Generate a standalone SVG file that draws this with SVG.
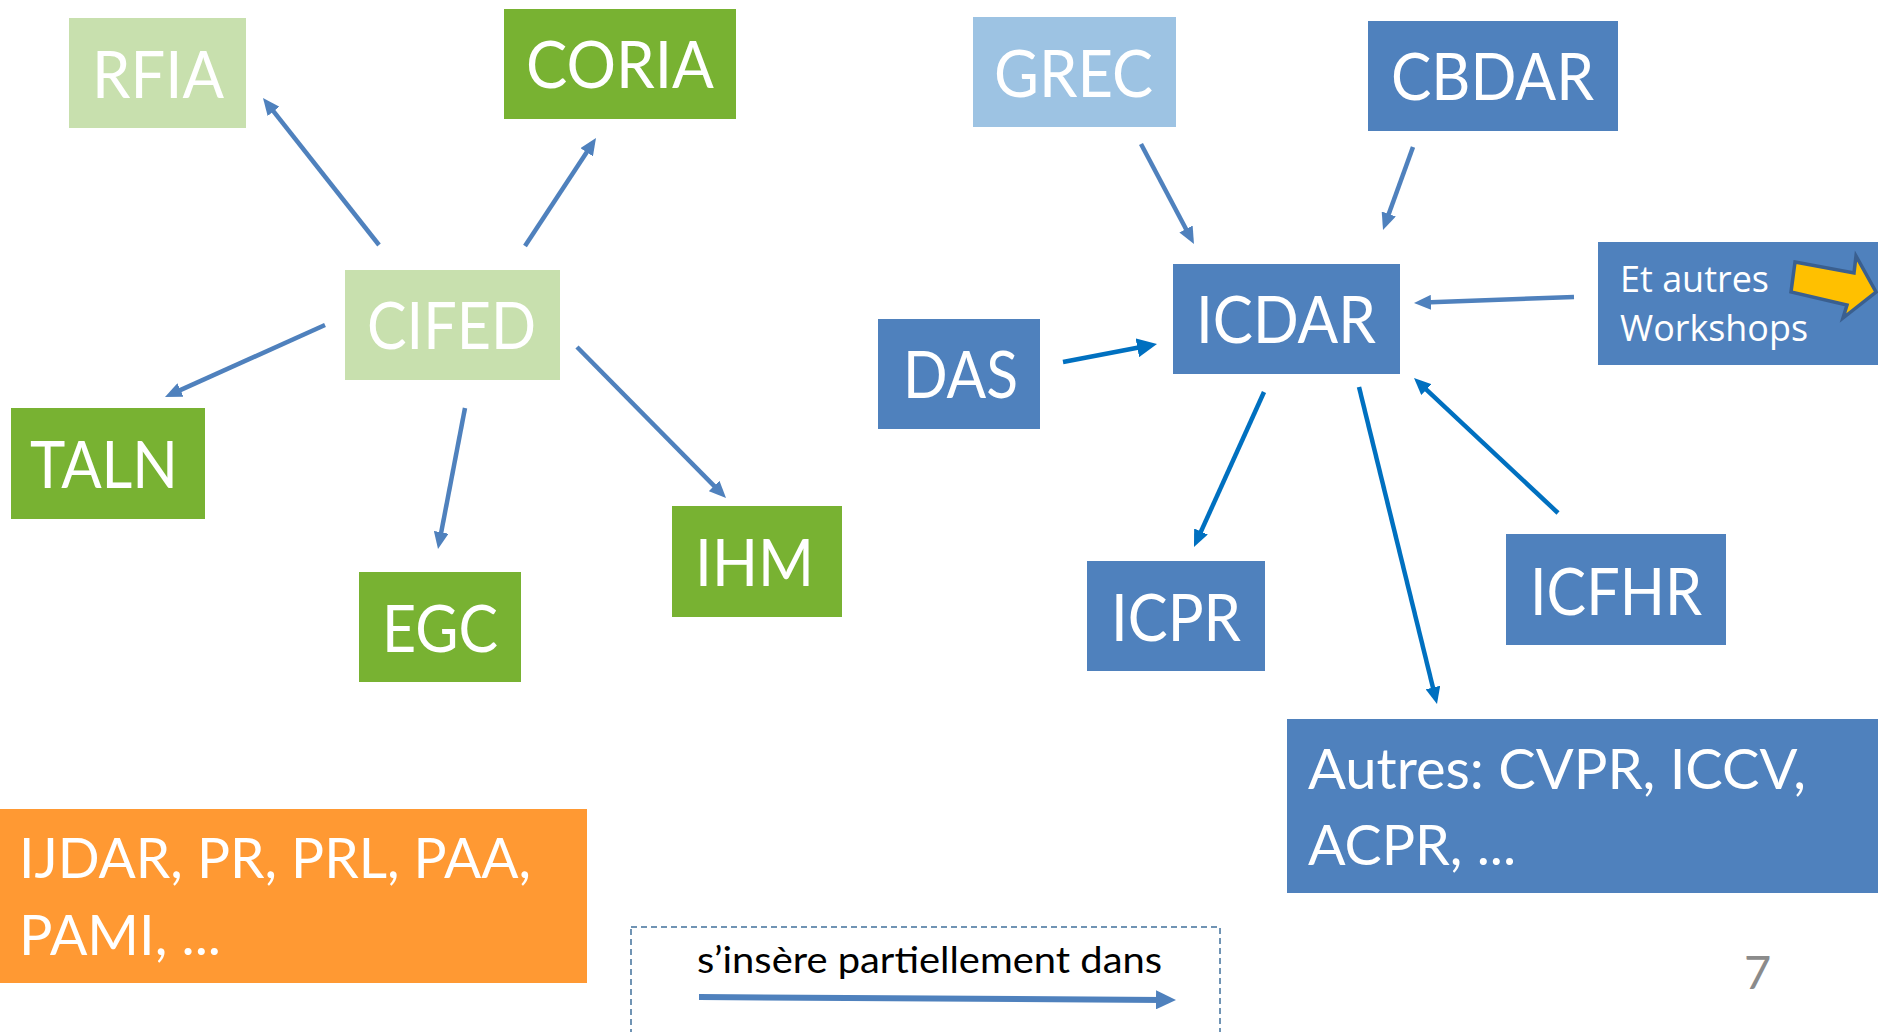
<svg xmlns="http://www.w3.org/2000/svg" width="1878" height="1032" viewBox="0 0 1878 1032">
<style>
.lg{fill:#C8E0AE}
.dg{fill:#78B232}
.bl{fill:#4F81BD}
.lb{fill:#9DC3E3}
.or{fill:#FF9933}
.t{font-family:Lato,"Open Sans","Liberation Sans",sans-serif;fill:#FFFFFF;font-size:66px}
.t2{font-family:Lato,"Open Sans","Liberation Sans",sans-serif;fill:#FFFFFF;font-size:56px}
.c1{fill:none;stroke:#4F81BD;stroke-width:4.5}
.c2{fill:none;stroke:#0070C0;stroke-width:4.5}
</style>
<defs>
<marker id="a1" markerUnits="userSpaceOnUse" viewBox="0 0 17 15" markerWidth="17" markerHeight="15" refX="7" refY="7.5" orient="auto"><path d="M0,0 L17,7.5 L0,15 z" fill="#4F81BD"/></marker>
<marker id="a2" markerUnits="userSpaceOnUse" viewBox="0 0 17 15" markerWidth="17" markerHeight="15" refX="7" refY="7.5" orient="auto"><path d="M0,0 L17,7.5 L0,15 z" fill="#0070C0"/></marker>
<marker id="a3" markerUnits="userSpaceOnUse" viewBox="0 0 20 19" markerWidth="20" markerHeight="19" refX="8" refY="9.5" orient="auto"><path d="M0,0 L20,9.5 L0,19 z" fill="#0070C0"/></marker>
<marker id="a4" markerUnits="userSpaceOnUse" viewBox="0 0 20 19" markerWidth="20" markerHeight="19" refX="8" refY="9.5" orient="auto"><path d="M0,0 L20,9.5 L0,19 z" fill="#4F81BD"/></marker>
</defs>

<g id="RFIA"><rect class="lg" x="69" y="18" width="177" height="110"/><text class="t" x="92" y="97.7" textLength="132" lengthAdjust="spacingAndGlyphs">RFIA</text></g>
<g id="CORIA"><rect class="dg" x="504" y="9" width="232" height="110"/><text class="t" x="526" y="88.3" textLength="188" lengthAdjust="spacingAndGlyphs">CORIA</text></g>
<g id="CIFED"><rect class="lg" x="345" y="270" width="215" height="110"/><text class="t" x="367" y="349.3" textLength="169" lengthAdjust="spacingAndGlyphs">CIFED</text></g>
<g id="TALN"><rect class="dg" x="11" y="408" width="194" height="111"/><text class="t" x="30" y="488.3" textLength="148" lengthAdjust="spacingAndGlyphs">TALN</text></g>
<g id="EGC"><rect class="dg" x="359" y="572" width="162" height="110"/><text class="t" x="382" y="651.8" textLength="116" lengthAdjust="spacingAndGlyphs">EGC</text></g>
<g id="IHM"><rect class="dg" x="672" y="506" width="170" height="111"/><text class="t" x="695" y="585.6" textLength="119" lengthAdjust="spacingAndGlyphs">IHM</text></g>
<g id="GREC"><rect class="lb" x="973" y="17" width="203" height="110"/><text class="t" x="994" y="96.7" textLength="159" lengthAdjust="spacingAndGlyphs">GREC</text></g>
<g id="CBDAR"><rect class="bl" x="1368" y="21" width="250" height="110"/><text class="t" x="1391" y="100" textLength="203" lengthAdjust="spacingAndGlyphs">CBDAR</text></g>
<g id="ICDAR"><rect class="bl" x="1173" y="264" width="227" height="110"/><text class="t" x="1196" y="343.3" textLength="180" lengthAdjust="spacingAndGlyphs">ICDAR</text></g>
<g id="DAS"><rect class="bl" x="878" y="319" width="162" height="110"/><text class="t" x="903" y="398.3" textLength="115" lengthAdjust="spacingAndGlyphs">DAS</text></g>
<g id="Workshops"><rect class="bl" x="1598" y="242" width="290" height="123"/>
<text x="1620" y="292" font-family="'Open Sans',Lato,sans-serif" font-size="37" fill="#FFFFFF" textLength="149" lengthAdjust="spacingAndGlyphs">Et autres</text>
<text x="1620" y="341" font-family="'Open Sans',Lato,sans-serif" font-size="37" fill="#FFFFFF" textLength="188" lengthAdjust="spacingAndGlyphs">Workshops</text>
<polygon points="1795,262 1854,273 1856,256 1876,292 1843,318 1847,305 1791,292" fill="#FFC000" stroke="#3A5F8F" stroke-width="3.5" stroke-linejoin="miter"/></g>
<g id="ICPR"><rect class="bl" x="1087" y="561" width="178" height="110"/><text class="t" x="1111" y="641" textLength="130" lengthAdjust="spacingAndGlyphs">ICPR</text></g>
<g id="ICFHR"><rect class="bl" x="1506" y="534" width="220" height="111"/><text class="t" x="1530" y="614.5" textLength="172" lengthAdjust="spacingAndGlyphs">ICFHR</text></g>
<g id="Autres"><rect class="bl" x="1287" y="719" width="600" height="174"/>
<text class="t2" x="1308" y="789" textLength="498" lengthAdjust="spacingAndGlyphs">Autres: CVPR, ICCV,</text>
<text class="t2" x="1308" y="865" textLength="208" lengthAdjust="spacingAndGlyphs">ACPR, ...</text></g>
<g id="Journaux"><rect class="or" x="0" y="809" width="587" height="174"/>
<text class="t2" x="19" y="878" textLength="512" lengthAdjust="spacingAndGlyphs">IJDAR, PR, PRL, PAA,</text>
<text class="t2" x="19" y="955" textLength="202" lengthAdjust="spacingAndGlyphs">PAMI, ...</text></g>

<g id="legend">
<rect x="631" y="927" width="589" height="130" fill="none" stroke="#41719C" stroke-width="1.5" stroke-dasharray="6 4"/>
<text x="697" y="973" font-family="Lato,'Open Sans',sans-serif" font-size="36" fill="#000000" textLength="465" lengthAdjust="spacingAndGlyphs">s’insère partiellement dans</text>
<line x1="699" y1="997" x2="1164" y2="999.9" stroke="#4F81BD" stroke-width="6" marker-end="url(#a4)"/>
</g>

<g id="connectors">
<line class="c1" x1="379" y1="245" x2="269.2" y2="105.9" marker-end="url(#a1)"/>
<line class="c1" x1="525" y1="246" x2="590.5" y2="146.4" marker-end="url(#a1)"/>
<line class="c1" x1="325" y1="325" x2="174.1" y2="392.9" marker-end="url(#a1)"/>
<line class="c1" x1="465" y1="408" x2="439.9" y2="539.2" marker-end="url(#a1)"/>
<line class="c1" x1="577" y1="347" x2="719" y2="490.9" marker-end="url(#a1)"/>
<line class="c1" x1="1141" y1="144" x2="1189.3" y2="235.2" marker-end="url(#a1)"/>
<line class="c1" x1="1413" y1="147" x2="1386.4" y2="220.6" marker-end="url(#a1)"/>
<line class="c1" x1="1574" y1="297" x2="1424" y2="302.6" marker-end="url(#a1)"/>
<line class="c2" x1="1063" y1="362" x2="1145.2" y2="346.3" stroke-width="6" marker-end="url(#a3)"/>
<line class="c2" x1="1264" y1="392" x2="1198.1" y2="537.9" marker-end="url(#a2)"/>
<line class="c2" x1="1359" y1="387" x2="1434.6" y2="694.3" marker-end="url(#a2)"/>
<line class="c2" x1="1558" y1="513" x2="1421.3" y2="384.8" marker-end="url(#a2)"/>
</g>

<text x="1744" y="989" font-family="Lato,'Open Sans',sans-serif" font-size="47" fill="#8B8B8B">7</text>
</svg>
